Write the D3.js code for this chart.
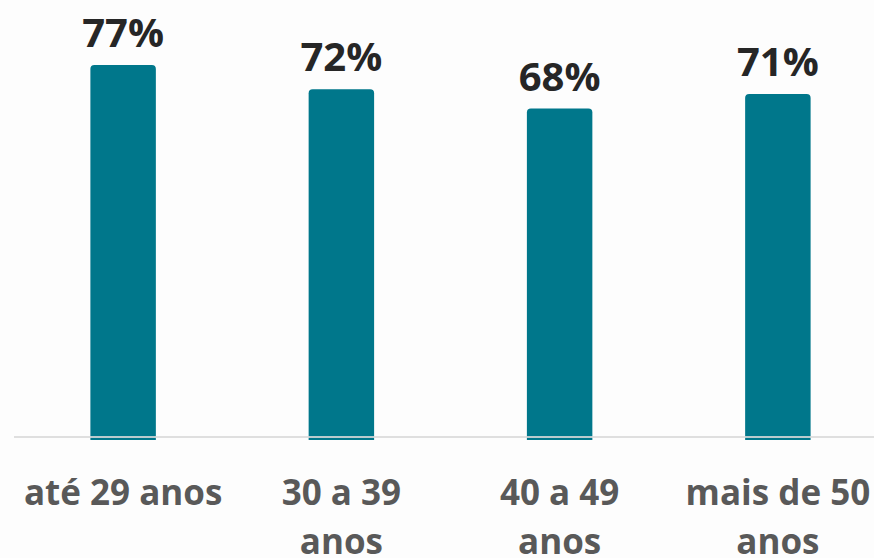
<!DOCTYPE html>
<html>
<head>
<meta charset="utf-8">
<script src="https://cdn.jsdelivr.net/npm/d3@7"></script>
<style>
  body { margin: 0; background: #fdfdfd; }
  svg { display: block; font-family: "Open Sans", sans-serif; font-weight: 700; }
</style>
</head>
<body>
<div id="chart"></div>
<script>
// faixas etarias e percentuais
var categories = [["até 29 anos"], ["30 a 39", "anos"], ["40 a 49", "anos"], ["mais de 50", "anos"]];
var values = [77, 72, 68, 71];

var W = 874, H = 558;
var baseY = 437;

var svg = d3.select("#chart").append("svg")
    .attr("width", W)
    .attr("height", H);

svg.append("rect").attr("width", W).attr("height", H).attr("fill", "#fdfdfd");

var x = d3.scaleBand()
    .domain(d3.range(values.length))
    .range([14, 887])
    .paddingInner(0.7)
    .paddingOuter(0.35);

var y = d3.scaleLinear()
    .domain([0, 80])
    .range([baseY, baseY - 80 * 4.83]);

function barPath(d, i) {
  var x0 = x(i), w = x.bandwidth(), top = y(d), bot = baseY + 3, r = 4;
  return "M" + x0 + "," + bot +
    "V" + (top + r) +
    "Q" + x0 + "," + top + " " + (x0 + r) + "," + top +
    "H" + (x0 + w - r) +
    "Q" + (x0 + w) + "," + top + " " + (x0 + w) + "," + (top + r) +
    "V" + bot + "Z";
}

svg.selectAll("path.bar")
  .data(values)
  .enter().append("path")
    .attr("class", "bar")
    .attr("d", barPath)
    .attr("fill", "#00778b");

// linha de base
svg.append("line")
    .attr("x1", 14).attr("x2", W)
    .attr("y1", baseY).attr("y2", baseY)
    .attr("stroke", "#d9d9d9")
    .attr("stroke-opacity", 0.85)
    .attr("stroke-width", 2);

svg.selectAll("text.val")
  .data(values)
  .enter().append("text")
    .attr("class", "val")
    .attr("x", function(d, i) { return x(i) + x.bandwidth() / 2; })
    .attr("y", function(d) { return y(d) - 18; })
    .attr("text-anchor", "middle")
    .attr("font-size", 40)
    .attr("fill", "#262626")
    .text(function(d) { return d + "%"; });

var cat = svg.selectAll("text.cat")
  .data(categories)
  .enter().append("text")
    .attr("class", "cat")
    .attr("text-anchor", "middle")
    .attr("font-size", 35)
    .attr("fill", "#595959");

cat.selectAll("tspan")
  .data(function(d, i) { return d.map(function(s) { return {s: s, i: i}; }); })
  .enter().append("tspan")
    .attr("x", function(d) { return x(d.i) + x.bandwidth() / 2; })
    .attr("y", function(d, j) { return 505 + j * 49; })
    .text(function(d) { return d.s; });
</script>
</body>
</html>
